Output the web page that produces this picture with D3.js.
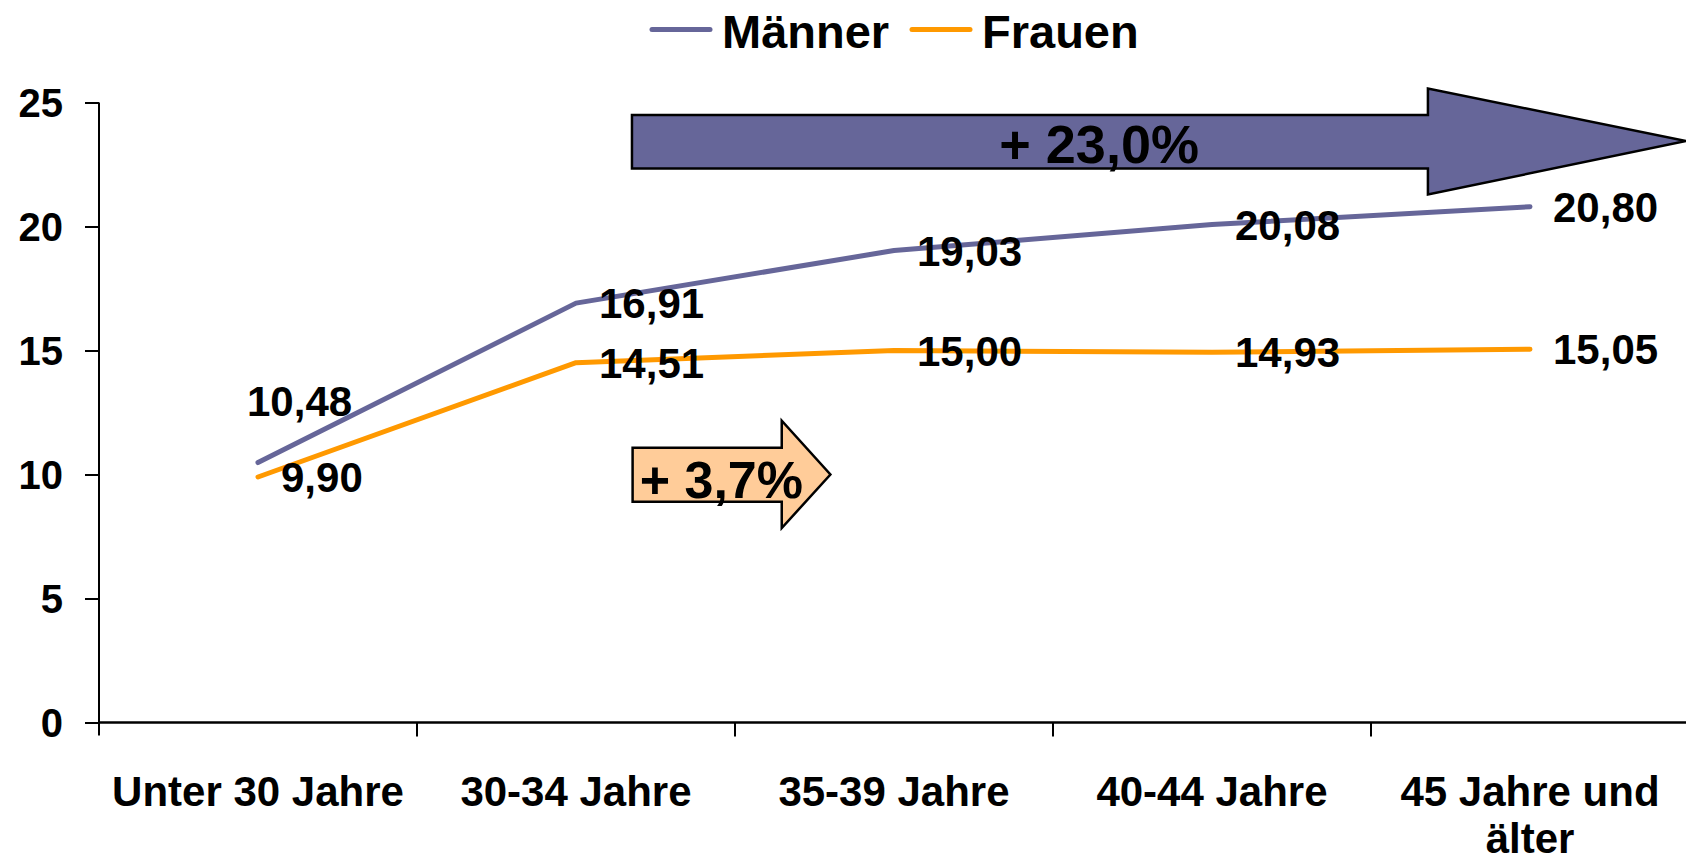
<!DOCTYPE html>
<html>
<head>
<meta charset="utf-8">
<script src="https://cdn.jsdelivr.net/npm/d3@7"></script>
<style>
  html, body { margin: 0; padding: 0; background: #fff; }
  svg { display: block; }
  text { font-family: "Liberation Sans", Arial, sans-serif; font-weight: bold; fill: #000; }
</style>
</head>
<body>
<svg id="chart" width="1686" height="860"></svg>
<script>
// ---- data ----
const categories = ["Unter 30 Jahre", "30-34 Jahre", "35-39 Jahre", "40-44 Jahre", "45 Jahre und älter"];
const maenner = [10.48, 16.91, 19.03, 20.08, 20.80];
const frauen  = [9.90, 14.51, 15.00, 14.93, 15.05];
const seriesNames = ["Männer", "Frauen"];
const seriesColors = ["#666699", "#FF9900"];
const yTicks = [0, 5, 10, 15, 20, 25];
// arrow annotations: x in category units from axis start, y in data units
const arrowLabels = ["+ 23,0%", "+ 3,7%"];
const arrowFills = ["#666699", "#FFCC99"];
const arrowBodyX = [[1.676, 4.179], [1.678, 2.147]];  // body left, head base
const arrowTipX = [4.991, 2.300];
const arrowBodyY = [[24.5, 22.34], [11.08, 8.90]];    // body top, body bottom
const arrowHeadY = [[25.56, 21.29], [12.17, 7.84]];   // head top, head bottom
const arrowTipY = [23.45, 10.0];
const arrowTextX = [3.145, 1.957];
const arrowTextY = [22.55, 9.05];
const arrowFont = [54, 52];

const fmt = v => v.toFixed(2).replace(".", ",");

const svg = d3.select("#chart");
const mLeft = 99, mRight = 1689, mTop = 102.5, mBottom = 722.5;

const x = d3.scaleBand().domain(categories).range([mLeft, mRight]).paddingInner(0).paddingOuter(0);
const xu = d3.scaleLinear().domain([0, categories.length]).range([mLeft, mRight]);
const y = d3.scaleLinear().domain([0, 25]).range([mBottom, mTop]);
const cx = c => x(c) + x.bandwidth() / 2;

// ---- y axis ----
const yAxis = svg.append("g").attr("transform", `translate(${mLeft},0)`)
  .call(d3.axisLeft(y).tickValues(yTicks).tickSize(14).tickPadding(22).tickFormat(d3.format("d")));
yAxis.select(".domain").attr("d", `M0,${mTop}V${mBottom + 13}`);
yAxis.selectAll("line, path").attr("stroke", "#000").attr("stroke-width", 2);
yAxis.selectAll("text").style("font-size", "40px").attr("dy", "0.36em")
  .style("font-family", '"Liberation Sans", Arial, sans-serif').style("font-weight", "bold");

// ---- x axis ----
const xAxisG = svg.append("g").attr("transform", `translate(0,${mBottom})`);
xAxisG.append("line").attr("x1", mLeft).attr("x2", 1686).attr("stroke", "#000").attr("stroke-width", 2.5);
xAxisG.selectAll("line.tick").data(categories.slice(1)).join("line")
  .attr("class", "tick")
  .attr("x1", d => x(d)).attr("x2", d => x(d)).attr("y1", 0).attr("y2", 14)
  .attr("stroke", "#000").attr("stroke-width", 2);

const xl = xAxisG.selectAll("text.xl").data(categories).join("text")
  .attr("class", "xl")
  .attr("text-anchor", "middle")
  .style("font-size", "42px")
  .attr("x", d => cx(d)).attr("y", 83);
xl.each(function(d) {
  const t = d3.select(this);
  const words = d.split(" ");
  let line = [];
  let tspan = t.append("tspan").attr("x", cx(d)).attr("dy", 0);
  for (const w of words) {
    line.push(w);
    tspan.text(line.join(" "));
    if (tspan.node().getComputedTextLength() > x.bandwidth() - 20 && line.length > 1) {
      line.pop();
      tspan.text(line.join(" "));
      line = [w];
      tspan = t.append("tspan").attr("x", cx(d)).attr("dy", 47).text(w);
    }
  }
});

// ---- arrows ----
arrowLabels.forEach((lab, i) => {
  const pts = [
    [xu(arrowBodyX[i][0]), y(arrowBodyY[i][0])],
    [xu(arrowBodyX[i][1]), y(arrowBodyY[i][0])],
    [xu(arrowBodyX[i][1]), y(arrowHeadY[i][0])],
    [xu(arrowTipX[i]), y(arrowTipY[i])],
    [xu(arrowBodyX[i][1]), y(arrowHeadY[i][1])],
    [xu(arrowBodyX[i][1]), y(arrowBodyY[i][1])],
    [xu(arrowBodyX[i][0]), y(arrowBodyY[i][1])]
  ];
  svg.append("path").attr("d", d3.line()(pts) + "Z")
    .attr("fill", arrowFills[i]).attr("stroke", "#000").attr("stroke-width", 2.5)
    .attr("stroke-linejoin", "miter");
  svg.append("text").attr("x", xu(arrowTextX[i])).attr("y", y(arrowTextY[i]))
    .attr("text-anchor", "middle").style("font-size", arrowFont[i] + "px").text(lab);
});

// ---- lines ----
const series = [maenner, frauen];
const lineGen = d3.line().x((d, i) => cx(categories[i])).y(d => y(d));
series.forEach((vals, s) => {
  svg.append("path").attr("d", lineGen(vals)).attr("fill", "none")
    .attr("stroke", seriesColors[s]).attr("stroke-width", 5)
    .attr("stroke-linecap", "round").attr("stroke-linejoin", "round");
});

// ---- data labels ----
series.forEach((vals, s) => {
  svg.selectAll(null).data(vals).join("text")
    .style("font-size", "42px")
    .attr("x", (d, i) => (s === 0 && i === 0) ? cx(categories[i]) - 11 : cx(categories[i]) + 23)
    .attr("y", (d, i) => (s === 0 && i === 0) ? y(d) - 62 : y(d))
    .attr("dy", "0.36em")
    .text(d => fmt(d));
});

// ---- legend ----
const legX = [652, 912];
seriesNames.forEach((n, i) => {
  svg.append("line").attr("x1", legX[i]).attr("x2", legX[i] + 58).attr("y1", 29.5).attr("y2", 29.5)
    .attr("stroke", seriesColors[i]).attr("stroke-width", 5).attr("stroke-linecap", "round");
  svg.append("text").attr("x", legX[i] + 70).attr("y", 48).style("font-size", "47px").text(n);
});
</script>
</body>
</html>
